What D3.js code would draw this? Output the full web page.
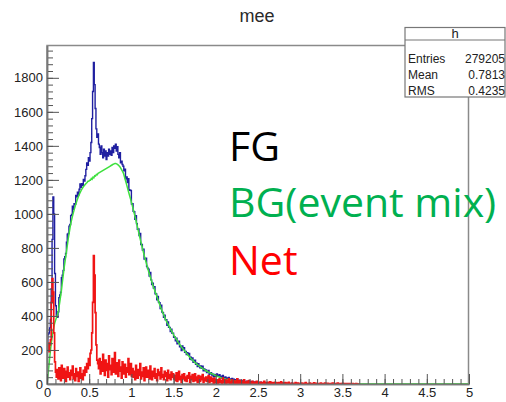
<!DOCTYPE html>
<html><head><meta charset="utf-8">
<script src="https://cdn.jsdelivr.net/npm/d3@7"></script>
<style>body{margin:0;background:#fff} svg{display:block}</style>
</head><body>
<svg id="c" width="506" height="402"></svg>
<script>
const binWidth = 0.01;
const fgCounts = [
230,290,300,330,380,560,850,1100,1000,650,
460,400,392,425,508,523,540,625,640,668,
735,748,768,833,880,885,928,938,990,997,
1046,1027,1060,1057,1108,1101,1127,1113,1145,1176,
1156,1177,1168,1202,1193,1224,1262,1300,1285,1330,
1310,1360,1420,1560,1720,1890,1760,1620,1500,1450,
1470,1410,1390,1350,1400,1360,1330,1380,1340,1370,
1320,1360,1340,1380,1350,1370,1345,1390,1360,1400,
1385,1410,1370,1395,1350,1330,1360,1300,1310,1290,
1280,1253,1263,1207,1217,1185,1207,1142,1139,1138,
1058,1060,1015,1013,968,990,943,909,912,872,
885,820,820,788,793,735,740,739,691,681,
675,634,656,612,584,593,564,572,531,529,
495,514,482,478,444,463,423,419,392,405,
378,378,345,365,333,333,309,322,298,299,
275,277,254,269,236,240,251,219,222,197,
223,204,213,187,191,173,184,171,180,146,
158,143,153,128,133,140,116,122,103,119,
105,95,106,93,104,78,88,77,83,68,
72,80,57,63,67,53,58,43,56,45,
53,59,47,50,55,43,46,35,51,37,
38,42,30,36,30,39,23,30,24,33,
24,28,17,25,19,30,20,14,23,16,
20,17,11,24,13,15,10,17,12,19,
8,13,11,15,7,12,10,6,14,9,
10,8,5,10,6,4,8,11,4,6,
3,8,4,3,9,5,3,7,3,4,
8,3,5,2,6,3,2,8,2,4,
2,3,4,2,3,2,5,2,3,1,
3,1,2,1,2,1,3,1,2,1
];
const bgCounts = [
20,70,120,170,215,255,290,320,345,365,
380,395,410,430,460,495,530,570,610,650,
690,725,760,795,830,865,895,925,950,972,
993,1012,1030,1047,1063,1078,1092,1105,1117,1128,
1138,1147,1155,1162,1168,1174,1180,1185,1192,1192,
1198,1198,1208,1204,1216,1212,1224,1222,1232,1230,
1238,1241,1244,1247,1250,1253,1256,1259,1262,1265,
1268,1271,1274,1277,1280,1283,1286,1289,1292,1294,
1296,1296,1294,1291,1287,1282,1276,1268,1259,1250,
1240,1223,1205,1187,1169,1150,1132,1114,1096,1078,
1060,1040,1020,1000,980,960,938,916,894,872,
850,830,810,790,770,750,732,714,696,678,
660,644,628,612,596,580,566,552,538,524,
510,496,482,468,454,440,428,416,404,392,
380,370,360,350,340,330,321,312,303,294,
285,277,269,261,253,245,238,231,224,217,
210,204,198,192,186,180,174,168,162,156,
150,145,140,135,130,125,121,117,113,109,
105,102,98,95,91,88,85,82,78,75,
72,70,67,65,62,60,58,55,53,50,
48,46,44,42,40,38,36,35,33,32,
30,29,27,26,25,24,23,22,21,20,
19,18,17,17,16,15,15,14,13,13,
12,12,11,11,10,10,10,9,9,9,
8,8,8,7,7,7,7,6,6,6,
5,5,5,5,5,4,4,4,4,4,
3,3,3,3,3,3,3,3,3,3,
3,3,2,2,2,2,2,2,2,2,
2,2,2,2,2,2,2,2,1,1,
1,1,1,1,1,1,1,1,1,1,
1,1,1,1,1,1,1,1,1,1,
1,1,1,1,1,1,1,1,1,1,
1,1,1,1,1,1,1,1,1,1,
1,1,1,1,1,1,1,1,1,1,
1,1,1,1,1,1,1,1,1,1,
0,0,0,0,0,0,0,0,0,0,
0,0,0,0,0,0,0,0,0,0,
0,0,0,0,0,0,0,0,0,0,
0,0,0,0,0,0,0,0,0,0,
0,0,0,0,0,0,0,0,0,0,
0,0,0,0,0,0,0,0,0,0,
0,0,0,0,0,0,0,0,0,0,
0,0,0,0,0,0,0,0,0,0,
0,0,0,0,0,0,0,0,0,0,
0,0,0,0,0,0,0,0,0,0,
0,0,0,0,0,0,0,0,0,0,
0,0,0,0,0,0,0,0,0,0,
0,0,0,0,0,0,0,0,0,0,
0,0,0,0,0,0,0,0,0,0,
0,0,0,0,0,0,0,0,0,0
];
const netCounts = [
210,240,190,230,260,480,620,540,300,130,
70,40,85,30,95,55,20,110,60,35,
90,45,15,75,100,40,65,25,80,50,
105,30,60,20,90,45,70,15,55,95,
35,60,25,80,50,100,70,120,90,150,
110,180,200,300,480,755,640,420,230,140,
120,90,150,60,130,75,175,95,50,140,
80,120,40,165,85,110,55,150,95,70,
185,60,125,90,45,140,75,100,35,130,
80,60,115,40,95,70,150,55,85,120,
45,90,40,75,25,110,60,35,85,50,
120,30,70,45,95,20,65,100,40,55,
80,30,105,50,25,75,45,90,35,60,
20,85,50,70,30,95,40,55,25,75,
45,65,20,80,35,55,25,70,40,60,
30,50,20,65,15,40,75,25,45,10,
55,30,60,20,40,15,50,35,65,10,
45,25,55,15,35,60,20,40,10,50,
30,15,45,25,55,10,35,20,40,15,
30,50,10,25,40,15,30,5,35,20,
10,25,5,15,30,10,20,0,35,10,
15,25,5,20,10,30,0,15,5,25,
10,20,0,15,5,30,10,0,20,5,
15,10,0,25,5,10,0,15,5,20,
0,10,5,15,0,10,5,0,15,5,
10,5,0,10,3,0,8,15,0,5,
0,10,3,0,12,5,0,8,0,3,
10,0,5,0,8,3,0,12,0,5,
0,3,8,0,5,0,10,0,3,0,
5,0,3,0,8,0,0,5,0,3,
0,6,0,0,4,0,8,0,2,0,
0,5,0,3,0,0,7,0,0,4,
0,0,3,0,6,0,0,2,0,5,
0,0,4,0,0,3,0,0,6,0,
0,2,0,0,5,0,0,3,0,0,
4,0,0,2,0,0,3,0,0,2,
0,0,3,0,0,0,2,0,0,0
];
const xTicks = [0,0.5,1,1.5,2,2.5,3,3.5,4,4.5,5];
const xTickLabels = ["0","0.5","1","1.5","2","2.5","3","3.5","4","4.5","5"];
const yTicks = [0,200,400,600,800,1000,1200,1400,1600,1800];
const yTickLabels = ["0","200","400","600","800","1000","1200","1400","1600","1800"];
const title = "mee";
const statsName = "h";
const statsRows = [["Entries","279205"],["Mean","0.7813"],["RMS","0.4235"]];
const legendTexts = ["FG","BG(event mix)","Net"];
const legendColors = ["#000000","#00b050","#ff0000"];

const svg = d3.select("#c");
const L = 47, R = 469, T = 45.5, B = 384;
const x = d3.scaleLinear().domain([0,5]).range([L,R]);
const y = d3.scaleLinear().domain([0,1990]).range([B,T]);

svg.append("defs").append("clipPath").attr("id","clip")
  .append("rect").attr("x",L).attr("y",T).attr("width",R-L).attr("height",B-T);

svg.append("text").attr("x",257).attr("y",22).attr("text-anchor","middle")
  .attr("font-family","Liberation Sans, Arial, sans-serif").attr("font-size",18)
  .attr("fill","#2a2a2a").text(title);

svg.append("rect").attr("x",L).attr("y",T).attr("width",R-L-0.5).attr("height",B-T)
  .attr("fill","none").attr("stroke","#8a8a8a").attr("stroke-width",1.5);

const g = svg.append("g").attr("clip-path","url(#clip)");

function stepPoints(arr){
  const pts = arr.map((v,i)=>[i*binWidth, v]);
  pts.push([arr.length*binWidth, arr[arr.length-1]]);
  return pts;
}
const stepLine = d3.line().x(d=>x(d[0])).y(d=>y(d[1])).curve(d3.curveStepAfter);
const smoothLine = d3.line().x(d=>x(d[0])).y(d=>y(d[1]));

g.append("path").attr("d", stepLine(stepPoints(fgCounts)))
  .attr("fill","none").attr("stroke","#1f1fa0").attr("stroke-width",1.4);
g.append("path").attr("d", smoothLine(bgCounts.map((v,i)=>[(i+0.5)*binWidth, v])))
  .attr("fill","none").attr("stroke","#3ee03e").attr("stroke-width",1.5);
g.append("path").attr("d", stepLine(stepPoints(netCounts)))
  .attr("fill","none").attr("stroke","#f01414").attr("stroke-width",1.7);

const font = "Liberation Sans, Arial, sans-serif";
const yMinor = d3.range(0,1990,40);
const xMinor = d3.range(0,51).map(i=>i/10);
const ya = svg.append("g").attr("transform",`translate(${L},0)`);
ya.call(d3.axisLeft(y).tickValues(yMinor).tickSize(-6).tickSizeOuter(0).tickFormat(""));
ya.append("g").call(d3.axisLeft(y).tickValues(yTicks).tickSize(-12).tickSizeOuter(0).tickPadding(4)
  .tickFormat((d,i)=>yTickLabels[i]));
const xa = svg.append("g").attr("transform",`translate(0,${B})`);
xa.call(d3.axisBottom(x).tickValues(xMinor).tickSize(-5).tickSizeOuter(0).tickFormat(""));
xa.append("g").call(d3.axisBottom(x).tickValues(xTicks).tickSize(-10).tickSizeOuter(0).tickPadding(4)
  .tickFormat((d,i)=>xTickLabels[i]));
svg.selectAll(".tick line").attr("stroke","#555");
svg.selectAll(".domain").attr("stroke","#777").attr("stroke-width",1.5);
svg.selectAll(".tick text").attr("font-family",font).attr("font-size",13).attr("fill","#222");

const sb = svg.append("g");
sb.append("rect").attr("x",405).attr("y",27.5).attr("width",100).attr("height",69.5)
  .attr("fill","#fff").attr("stroke","#777").attr("stroke-width",1.2);
sb.append("line").attr("x1",405).attr("x2",505).attr("y1",40).attr("y2",40)
  .attr("stroke","#777").attr("stroke-width",1.2);
sb.append("text").attr("x",455).attr("y",37.5).attr("text-anchor","middle")
  .attr("font-family",font).attr("font-size",13).attr("fill","#222").text(statsName);
statsRows.forEach((r,i)=>{
  const yy = 62.5 + i*16;
  sb.append("text").attr("x",408).attr("y",yy).attr("font-family",font).attr("font-size",12)
    .attr("fill","#222").text(r[0]);
  sb.append("text").attr("x",505).attr("y",yy).attr("text-anchor","end").attr("font-family",font)
    .attr("font-size",12).attr("fill","#222").text(r[1]);
});

const baselines = [161,217,275];
legendTexts.forEach((t,i)=>{
  svg.append("text").attr("x",229).attr("y",baselines[i])
    .attr("font-family","Open Sans, sans-serif").attr("font-size",41)
    .attr("fill",legendColors[i]).text(t);
});
</script>
</body></html>
